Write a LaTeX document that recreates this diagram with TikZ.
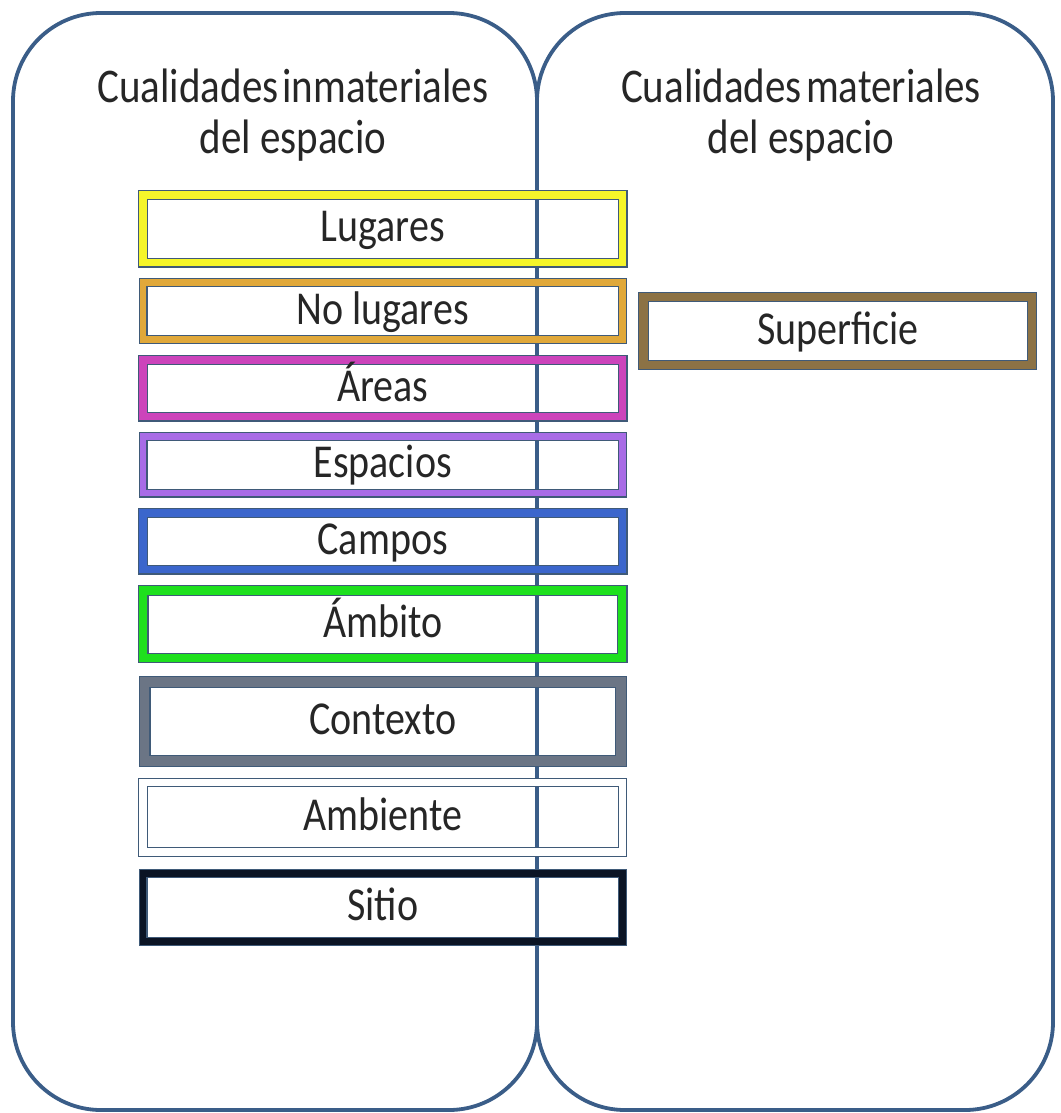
\documentclass[tikz,border=0pt]{standalone}
\usepackage{fontspec}
\setmainfont{Carlito}
\usepackage{graphicx}
\definecolor{edge}{HTML}{3A5D88}
\definecolor{bandline}{HTML}{3F5A78}
\definecolor{yel}{HTML}{F5F52A}
\definecolor{org}{HTML}{E0A83A}
\definecolor{mag}{HTML}{CC44BB}
\definecolor{lav}{HTML}{A86CE6}
\definecolor{blu}{HTML}{3B66CC}
\definecolor{grn}{HTML}{1EE01E}
\definecolor{gry}{HTML}{6B7585}
\definecolor{sit}{HTML}{0B1424}
\definecolor{brn}{HTML}{8C7245}
\definecolor{ink}{HTML}{262626}
\newcommand{\tallt}[1]{\scalebox{1}[1.18]{#1}}
\tikzset{
  frame/.style={draw=edge, line width=1.9pt, rounded corners=44pt},
  band/.style 2 args={draw=bandline, line width=0.55pt, double=#1, double distance=#2,
    rectangle, inner sep=0pt, text height=13pt, text depth=0pt, text=ink,
    font=\fontsize{20}{24}\selectfont},
  title/.style={anchor=base, inner sep=0pt, text=ink, font=\fontsize{20.5}{21.2}\selectfont}
}
\begin{document}
\begin{tikzpicture}[x=0.5pt,y=-0.5pt]
\useasboundingbox (0,0) rectangle (1060,1113);
\draw[frame] (13,13) rectangle (537,1110);
\draw[frame] (537,13) rectangle (1053,1110);

\node[title] (t1) at (293,103) {\tallt{\setlength{\tabcolsep}{0pt}\begin{tabular}[t]{c}Cualidades\hspace{0.1em}inmateriales\\del espacio\end{tabular}}};
\node[title] (t2) at (801,103) {\tallt{\setlength{\tabcolsep}{0pt}\begin{tabular}[t]{c}Cualidades\hspace{0.1em}materiales\\del espacio\end{tabular}}};

\node[band={yel}{3.9pt}, minimum width=239.75pt, minimum height=33.75pt] (lug) at (382.75,228.75) {\tallt{Lugares}};
\node[band={org}{3.4pt}, minimum width=239.75pt, minimum height=28.5pt] (nol) at (382.75,311) {\tallt{No lugares}};
\node[band={mag}{3.9pt}, minimum width=239.75pt, minimum height=28.25pt] (are) at (382.75,388.25) {\tallt{Áreas}};
\node[band={lav}{3.4pt}, minimum width=239.75pt, minimum height=28.25pt] (esp) at (382.75,464.75) {\tallt{Espacios}};
\node[band={blu}{3.9pt}, minimum width=239.75pt, minimum height=28.25pt] (cam) at (382.75,541.25) {\tallt{Campos}};
\node[band={grn}{4.15pt}, minimum width=239.5pt, minimum height=33.75pt] (amb) at (382.75,624.25) {\tallt{Ámbito}};
\node[band={gry}{4.9pt}, minimum width=238.25pt, minimum height=39.5pt] (con) at (382.75,721.5) {\tallt{Contexto}};
\node[band={white}{3.65pt}, minimum width=239.75pt, minimum height=34.75pt] (ambi) at (382.75,817.25) {\tallt{Ambiente}};
\node[band={sit}{3.4pt}, minimum width=239.75pt, minimum height=34pt] (sit) at (382.75,907.5) {\tallt{Sitio}};
\node[band={brn}{4.15pt}, minimum width=194.25pt, minimum height=34pt] (sup) at (837.75,331) {\tallt{Superficie}};
\end{tikzpicture}
\end{document}
